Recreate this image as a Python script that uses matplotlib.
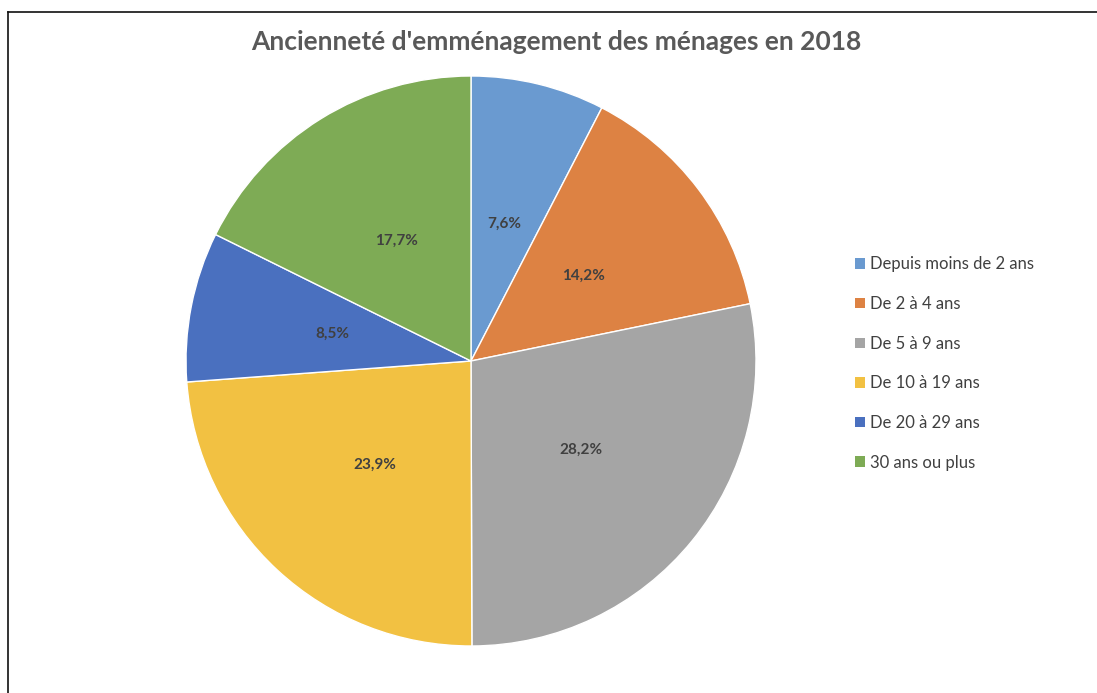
import matplotlib.pyplot as plt
import numpy as np
from matplotlib.lines import Line2D
from matplotlib.patches import Patch

categories = ['Depuis moins de 2 ans', 'De 2 à 4 ans', 'De 5 à 9 ans',
              'De 10 à 19 ans', 'De 20 à 29 ans', '30 ans ou plus']
shares = [7.6, 14.2, 28.2, 23.9, 8.5, 17.7]
colors = ['#6A9AD0', '#DD8243', '#A5A5A5', '#F2C142', '#4A70BF', '#7EAB55']

plt.rcParams['font.family'] = ['Lato', 'DejaVu Sans']

W, H = 1097, 693
fig = plt.figure(figsize=(W / 100, H / 100), dpi=100)

# pie axes: centre (471, 361) px, radius 285 px
cx, cy, r = 471, 361, 285
ax = fig.add_axes([(cx - r) / W, (H - cy - r) / H, 2 * r / W, 2 * r / H])
wedges, texts = ax.pie(shares, colors=colors, startangle=90, counterclock=False,
                       radius=1, labels=None,
                       wedgeprops=dict(edgecolor='white', linewidth=1))
ax.set_xlim(-1, 1)
ax.set_ylim(-1, 1)
ax.set_aspect('equal')
ax.axis('off')

# value labels
for val, w in zip(shares, wedges):
    mid = np.deg2rad((w.theta1 + w.theta2) / 2)
    ax.text(0.495 * np.cos(mid), 0.495 * np.sin(mid),
            f"{val:.1f}%".replace('.', ','), ha='center', va='center',
            fontsize=11, fontweight='bold', color='#404040')

# title
fig.text(556 / W, 1 - 42 / H, "Ancienneté d'emménagement des ménages en 2018",
         ha='center', va='center', fontsize=19, fontweight='bold', color='#595959')

# legend
handles = [Patch(facecolor=c, edgecolor='none') for c in colors]
fig.legend(handles, categories, loc='upper left',
           bbox_to_anchor=(847 / W, 1 - 248 / H), frameon=False,
           fontsize=12, labelcolor='#404040', handlelength=0.6, handleheight=0.6,
           handletextpad=0.3, labelspacing=1.42, borderpad=0)

# frame lines (top and left)
top = 1 - 12 / H
fig.add_artist(Line2D([8 / W, 1], [top, top], color='#111111', linewidth=1.2,
                      transform=fig.transFigure))
fig.add_artist(Line2D([8 / W, 8 / W], [0, top], color='#111111', linewidth=1.2,
                      transform=fig.transFigure))

fig.savefig('out.png', dpi=100, facecolor='white')
